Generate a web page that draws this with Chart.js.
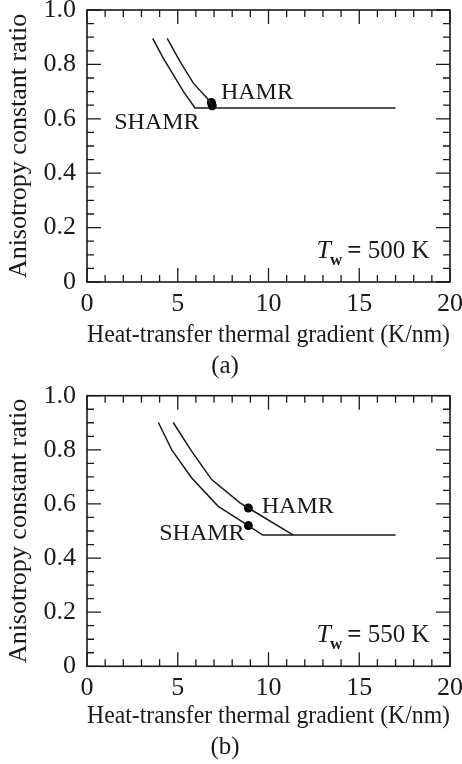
<!DOCTYPE html>
<html>
<head>
<meta charset="utf-8">
<script src="https://cdn.jsdelivr.net/npm/chart.js@4.4.1/dist/chart.umd.min.js"></script>
<style>
  html, body { margin: 0; padding: 0; background: #fff; }
  canvas { display: block; }
</style>
</head>
<body>
<canvas id="chartA" width="462" height="380"></canvas>
<canvas id="chartB" width="462" height="384"></canvas>
<script>
// ---- data ----
const xTickLabels = [0, 5, 10, 15, 20];
const yTickLabels = [0, 0.2, 0.4, 0.6, 0.8, 1.0];

// (a) Tw = 500 K
const shamrA_x = [3.62, 4.20, 4.75, 5.31, 5.95, 17.0];
const shamrA_y = [0.896, 0.823, 0.762, 0.701, 0.640, 0.640];
const hamrA_x = [4.42, 5.12, 5.86, 6.78, 6.95];
const hamrA_y = [0.896, 0.811, 0.731, 0.664, 0.640];
const dotsA_x = [6.85, 6.90];
const dotsA_y = [0.660, 0.648];

// (b) Tw = 550 K
const shamrB_x = [3.93, 4.67, 5.77, 7.23, 8.89, 9.68, 17.0];
const shamrB_y = [0.901, 0.800, 0.696, 0.591, 0.520, 0.485, 0.485];
const hamrB_x = [4.75, 5.77, 6.87, 8.43, 8.89, 11.37];
const hamrB_y = [0.901, 0.794, 0.690, 0.604, 0.585, 0.485];
const dotsB_x = [8.89, 8.89];
const dotsB_y = [0.585, 0.520];

const FONT = '"Liberation Serif", "Times New Roman", serif';
const INK = '#1a1a1a';

function pts(xs, ys) {
    return xs.map((x, i) => ({ x: x, y: ys[i] }));
}

// frame, inward ticks and text labels
const framePlugin = {
    id: 'frame',
    afterDraw(chart, args, opts) {
        const { ctx, chartArea: a, scales: { x, y } } = chart;
        ctx.save();
        ctx.strokeStyle = INK;
        ctx.lineWidth = 1.6;
        ctx.strokeRect(a.left, a.top, a.right - a.left, a.bottom - a.top);

        ctx.lineWidth = 1.3;
        ctx.beginPath();
        for (let v = 0; v <= 20; v += 1) {
            const len = v % 5 === 0 ? 14 : 7;
            const px = x.getPixelForValue(v);
            ctx.moveTo(px, a.bottom); ctx.lineTo(px, a.bottom - len);
            ctx.moveTo(px, a.top); ctx.lineTo(px, a.top + len);
        }
        for (let i = 0; i <= 20; i++) {
            const v = i * 0.05;
            const len = i % 4 === 0 ? 14 : 7;
            const py = y.getPixelForValue(v);
            ctx.moveTo(a.left, py); ctx.lineTo(a.left + len, py);
            ctx.moveTo(a.right, py); ctx.lineTo(a.right - len, py);
        }
        ctx.stroke();

        // curve names
        ctx.fillStyle = INK;
        ctx.textBaseline = 'middle';
        ctx.textAlign = 'left';
        ctx.font = '24px ' + FONT;
        opts.labels.forEach(l => {
            ctx.fillText(l.text, x.getPixelForValue(l.x), y.getPixelForValue(l.y));
        });

        // T_w = ... K
        const tx = x.getPixelForValue(opts.tw.x);
        const ty = y.getPixelForValue(opts.tw.y);
        ctx.textBaseline = 'alphabetic';
        ctx.font = 'italic 26px ' + FONT;
        ctx.fillText('T', tx, ty);
        let w = ctx.measureText('T').width;
        ctx.font = 'bold 17px ' + FONT;
        ctx.fillText('w', tx + w - 1, ty + 7);
        w += ctx.measureText('w').width + 4;
        ctx.font = 'bold 25px ' + FONT;
        ctx.fillText('=', tx + w, ty);
        w += ctx.measureText('= ').width;
        ctx.font = '25px ' + FONT;
        ctx.fillText(opts.tw.text, tx + w, ty);
        ctx.restore();
    }
};

function makeChart(id, cfg) {
    const lineStyle = { showLine: true, borderColor: INK, borderWidth: 1.5, pointRadius: 0, fill: false, tension: 0 };
    return new Chart(document.getElementById(id), {
        type: 'scatter',
        data: {
            datasets: [
                Object.assign({ label: 'SHAMR', data: cfg.shamr }, lineStyle),
                Object.assign({ label: 'HAMR', data: cfg.hamr }, lineStyle),
                { label: 'points', data: cfg.dots, pointRadius: 4.5, pointBackgroundColor: '#000', pointBorderWidth: 0, showLine: false }
            ]
        },
        options: {
            responsive: false,
            animation: false,
            layout: { padding: cfg.padding },
            plugins: {
                legend: { display: false },
                tooltip: { enabled: false },
                title: {
                    display: true, position: 'bottom', text: cfg.caption, color: INK,
                    font: { family: FONT, size: 25, weight: 'normal', lineHeight: 1 }, padding: 0
                },
                frame: { labels: cfg.labels, tw: cfg.tw }
            },
            scales: {
                x: {
                    type: 'linear', min: 0, max: 20,
                    afterBuildTicks: s => { s.ticks = xTickLabels.map(v => ({ value: v })); },
                    afterFit: s => { s.height = cfg.xHeight; s.paddingRight = 0; },
                    ticks: { color: INK, font: { family: FONT, size: 26, lineHeight: 1 }, padding: 9, maxRotation: 0, autoSkip: false },
                    grid: { display: false, drawTicks: false },
                    border: { display: false },
                    title: { display: true, text: 'Heat-transfer thermal gradient (K/nm)', color: INK,
                             font: { family: FONT, size: 25, lineHeight: 1 }, padding: { top: 0, bottom: cfg.titlePad } }
                },
                y: {
                    type: 'linear', min: 0, max: 1,
                    afterBuildTicks: s => { s.ticks = yTickLabels.map(v => ({ value: v })); },
                    afterFit: s => { s.width = 87; s.paddingTop = 0; s.paddingBottom = 0; },
                    ticks: { color: INK, font: { family: FONT, size: 26, lineHeight: 1 }, padding: 11,
                             callback: v => v === 0 ? '0' : v.toFixed(1) },
                    grid: { display: false, drawTicks: false },
                    border: { display: false },
                    title: { display: true, text: 'Anisotropy constant ratio', color: INK,
                             font: { family: FONT, size: 26, lineHeight: 1 }, padding: { top: 6, bottom: 0 } }
                }
            }
        },
        plugins: [framePlugin]
    });
}

makeChart('chartA', {
    shamr: pts(shamrA_x, shamrA_y),
    hamr: pts(hamrA_x, hamrA_y),
    dots: pts(dotsA_x, dotsA_y),
    caption: '(a)',
    padding: { top: 10, right: 12, bottom: 1, left: 0 },
    xHeight: 72,
    titlePad: 6,
    labels: [{ text: 'HAMR', x: 7.38, y: 0.695 }, { text: 'SHAMR', x: 1.50, y: 0.585 }],
    tw: { x: 12.65, y: 0.088, text: '500 K' }
});

makeChart('chartB', {
    shamr: pts(shamrB_x, shamrB_y),
    hamr: pts(hamrB_x, hamrB_y),
    dots: pts(dotsB_x, dotsB_y),
    caption: '(b)',
    padding: { top: 15.7, right: 12, bottom: 4, left: 0 },
    xHeight: 68.7,
    titlePad: 6.5,
    labels: [{ text: 'HAMR', x: 9.63, y: 0.588 }, { text: 'SHAMR', x: 3.98, y: 0.49 }],
    tw: { x: 12.65, y: 0.088, text: '550 K' }
});
</script>
</body>
</html>
